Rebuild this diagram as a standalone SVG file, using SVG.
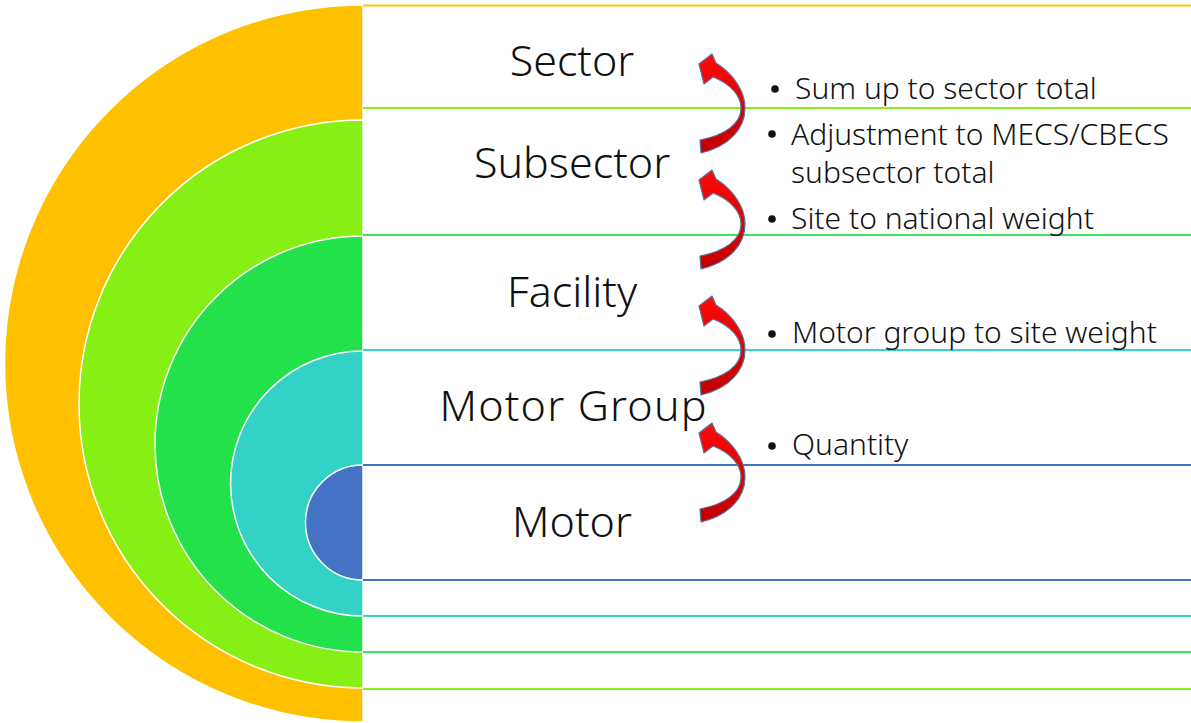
<svg xmlns="http://www.w3.org/2000/svg" width="1191" height="723" viewBox="0 0 1191 723">
<style>
.half{stroke:#ffffff;stroke-width:1.5}
.ln{stroke-width:2;fill:none}
.lbl{font-family:"Noto Sans","Open Sans","DejaVu Sans",sans-serif;font-size:43px;font-weight:300;fill:#111111;text-anchor:middle}
.note{font-family:"Noto Sans","Open Sans","DejaVu Sans",sans-serif;font-size:30px;font-weight:300;fill:#111111}
.arr{fill:url(#redg);stroke:#55739c;stroke-width:1.2;stroke-linejoin:round}
</style>
<defs>
<linearGradient id="redg" x1="0" y1="0" x2="0" y2="1">
<stop offset="0" stop-color="#ff0a0a"/>
<stop offset="0.5" stop-color="#e60000"/>
<stop offset="1" stop-color="#c00000"/>
</linearGradient>
<path id="carrow" d="M -46,-44 L -33,-54 L -29,-45 C -13,-35 0,-18 0,0 C 0,20 -15,38 -44,45 L -45,32 C -20,27 -4,16 -4,0 C -4,-12 -14,-24 -32,-31 L -41,-24 Z"/>
</defs>
<rect x="0" y="0" width="1191" height="723" fill="#ffffff"/>

<g id="sector">
<path class="half" d="M363,5 A358.5,358.5 0 0 0 363,722 Z" fill="#FFC000"/>
<line class="ln" x1="363" y1="5.5" x2="1191" y2="5.5" stroke="#FFC000"/>
<text class="lbl" x="572" y="76">Sector</text>
</g>

<g id="subsector">
<path class="half" d="M363,120 A284,284 0 0 0 363,688 Z" fill="#86EF14"/>
<line class="ln" x1="363" y1="108" x2="1191" y2="108" stroke="#86EF14"/>
<line class="ln" x1="363" y1="689" x2="1191" y2="689" stroke="#86EF14"/>
<text class="lbl" x="572" y="178">Subsector</text>
</g>

<g id="facility">
<path class="half" d="M363,236 A208,208 0 0 0 363,652 Z" fill="#22E14A"/>
<line class="ln" x1="363" y1="235" x2="1191" y2="235" stroke="#3DE35E"/>
<line class="ln" x1="363" y1="652" x2="1191" y2="652" stroke="#3DE35E"/>
<text class="lbl" x="572" y="307">Facility</text>
</g>

<g id="motor-group">
<path class="half" d="M363,351 A132.5,132.5 0 0 0 363,616 Z" fill="#33D1C6"/>
<line class="ln" x1="363" y1="350" x2="1191" y2="350" stroke="#33D6C8"/>
<line class="ln" x1="363" y1="616" x2="1191" y2="616" stroke="#33D6C8"/>
<text class="lbl" x="573" y="421" textLength="267" lengthAdjust="spacing">Motor Group</text>
</g>

<g id="motor">
<path class="half" d="M363,465 A57.5,57.5 0 0 0 363,580 Z" fill="#4472C4"/>
<line class="ln" x1="363" y1="465" x2="1191" y2="465" stroke="#4472C4"/>
<line class="ln" x1="363" y1="580" x2="1191" y2="580" stroke="#4472C4"/>
<text class="lbl" x="572" y="537">Motor</text>
</g>

<g id="connectors">
<use href="#carrow" class="arr" transform="translate(745,108)"/>
<use href="#carrow" class="arr" transform="translate(745,224)"/>
<use href="#carrow" class="arr" transform="translate(745,350)"/>
<use href="#carrow" class="arr" transform="translate(745,477)"/>
</g>

<g id="notes">
<circle cx="775" cy="89" r="3.8" fill="#111"/>
<text class="note" x="795" y="99">Sum up to sector total</text>
<circle cx="772" cy="134" r="3.8" fill="#111"/>
<text class="note" x="791" y="145">Adjustment to MECS/CBECS</text>
<text class="note" x="791" y="183">subsector total</text>
<circle cx="772" cy="219" r="3.8" fill="#111"/>
<text class="note" x="791" y="229">Site to national weight</text>
<circle cx="772" cy="334" r="3.8" fill="#111"/>
<text class="note" x="792" y="343">Motor group to site weight</text>
<circle cx="772" cy="446" r="3.8" fill="#111"/>
<text class="note" x="792" y="455">Quantity</text>
</g>
</svg>
